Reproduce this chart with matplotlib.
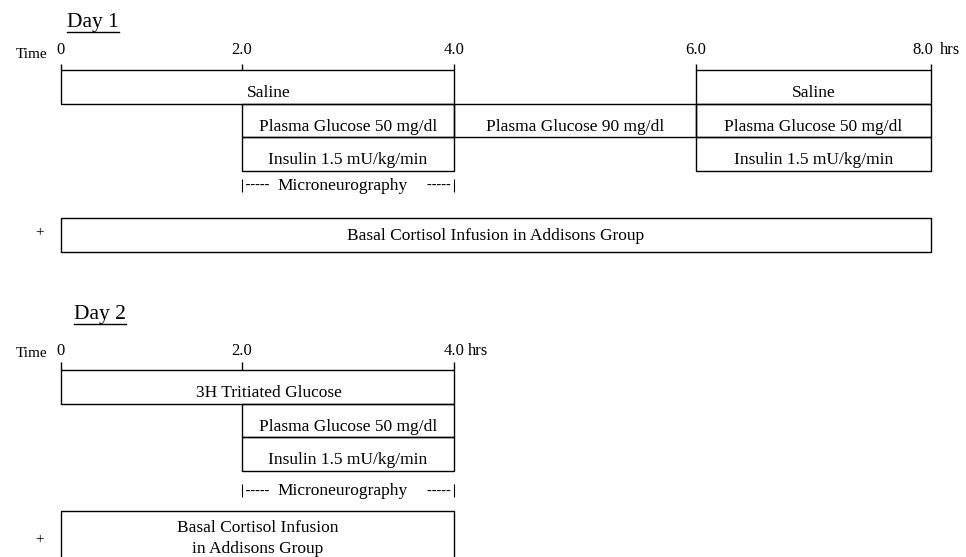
"""Protocol timeline schematic (Day 1 / Day 2 clamp study)."""

import matplotlib
matplotlib.use("Agg")
import matplotlib.pyplot as plt
import numpy as np
from matplotlib.patches import Rectangle
from matplotlib.transforms import Affine2D, offset_copy

W, H = 966, 557

# --- data -------------------------------------------------------------------
HOURS = [0, 2, 4, 6, 8]

day1_ticks = [0, 2, 4, 6, 8]
day1_tick_labels = ["0", "2.0", "4.0", "6.0", "8.0"]
day1_labels = ["Saline", "Plasma Glucose 50 mg/dl", "Insulin 1.5 mU/kg/min",
               "Plasma Glucose 90 mg/dl", "Saline", "Plasma Glucose 50 mg/dl",
               "Insulin 1.5 mU/kg/min"]
day1_start = [0, 2, 2, 4, 6, 6, 6]
day1_end = [4, 4, 4, 6, 8, 8, 8]
day1_row = [0, 1, 2, 1, 0, 1, 2]
day1_micro = (2, 4)
day1_cortisol = (0, 8, "Basal Cortisol Infusion in Addisons Group")

day2_ticks = [0, 2, 4]
day2_tick_labels = ["0", "2.0", "4.0"]
day2_labels = ["3H Tritiated Glucose", "Plasma Glucose 50 mg/dl",
               "Insulin 1.5 mU/kg/min"]
day2_start = [0, 2, 2]
day2_end = [4, 4, 4]
day2_row = [0, 1, 2]
day2_micro = (2, 4)
day2_cortisol = (0, 4, "Basal Cortisol Infusion\nin Addisons Group")

# --- layout -----------------------------------------------------------------
# the hour marks in the original sketch are not evenly spaced
TICK_PX = [61, 242, 454, 696, 931]
ROW_H = 33.7
# per-panel vertical layout (pixels from top)
PANELS = [
    dict(day="Day 1", day_x=67, day_base=27.5, tick_base=54, time_base=58,
         tick_top=64, axis_y=70, micro_y=186, cort_top=218, cort_h=33.5,
         plus_y=233, last_dx=2, last_ha="right", hrs_dx=9,
         label_at=[2.25, 3, 3, 5, 7, 7, 7]),
    dict(day="Day 2", day_x=74, day_base=319, tick_base=355, time_base=357,
         tick_top=362, axis_y=370, micro_y=491, cort_top=511, cort_h=53,
         plus_y=540, last_dx=0, last_ha="center", hrs_dx=14,
         label_at=[2.25, 3, 3]),
]

FONT = "Liberation Serif"
BOX_FS = 12.5


def hours_to_px(h):
    h = np.asarray(h, dtype=float)
    px = np.interp(h, HOURS, TICK_PX)
    lo = (TICK_PX[1] - TICK_PX[0]) / (HOURS[1] - HOURS[0])
    hi = (TICK_PX[-1] - TICK_PX[-2]) / (HOURS[-1] - HOURS[-2])
    px = np.where(h < HOURS[0], TICK_PX[0] + (h - HOURS[0]) * lo, px)
    px = np.where(h > HOURS[-1], TICK_PX[-1] + (h - HOURS[-1]) * hi, px)
    return px


def px_to_hours(p):
    p = np.asarray(p, dtype=float)
    h = np.interp(p, TICK_PX, HOURS)
    lo = (HOURS[1] - HOURS[0]) / (TICK_PX[1] - TICK_PX[0])
    hi = (HOURS[-1] - HOURS[-2]) / (TICK_PX[-1] - TICK_PX[-2])
    h = np.where(p < TICK_PX[0], HOURS[0] + (p - TICK_PX[0]) * lo, h)
    h = np.where(p > TICK_PX[-1], HOURS[-1] + (p - TICK_PX[-1]) * hi, h)
    return h


fig = plt.figure(figsize=(W / 100, H / 100), dpi=100)
ax = fig.add_axes([0, 0, 1, 1])
ax.set_xscale("function", functions=(hours_to_px, px_to_hours))
ax.set_xlim(float(px_to_hours(0)), float(px_to_hours(W)))
ax.set_ylim(H, 0)
ax.axis("off")

# pixel transform, origin top-left
pix = Affine2D().scale(1 / W, -1 / H).translate(0, 1) + fig.transFigure

day_texts = []


def draw_panel(p, ticks, tick_labels, labels, starts, ends, rows, micro, cort):
    t = fig.text(p["day_x"], p["day_base"], p["day"], transform=pix,
                 family=FONT, fontsize=15.5, va="baseline", ha="left")
    day_texts.append((t, p["day_base"] + 4.5))

    # time scale
    fig.text(47, p["time_base"], "Time", transform=pix, family=FONT,
             fontsize=11, ha="right", va="baseline")
    for i, (h, lab) in enumerate(zip(ticks, tick_labels)):
        last = i == len(ticks) - 1
        tr = offset_copy(ax.transData, fig, x=p["last_dx"] if last else 0,
                         y=0, units="dots")
        ax.text(h, p["tick_base"], lab, family=FONT, fontsize=12,
                ha=p["last_ha"] if last else "center", va="baseline",
                transform=tr)
    ax.vlines(ticks, p["tick_top"], p["axis_y"], color="black", lw=1.0)
    tr = offset_copy(ax.transData, fig, x=p["hrs_dx"], y=0, units="dots")
    ax.text(ticks[-1], p["tick_base"], "hrs", family=FONT, fontsize=12,
            ha="left", va="baseline", transform=tr)

    # infusion boxes
    for lab, s, e, r, at in zip(labels, starts, ends, rows, p["label_at"]):
        top = p["axis_y"] + r * ROW_H
        ax.add_patch(Rectangle((s, top), e - s, ROW_H, fill=False,
                               edgecolor="black", lw=1.0))
        ax.text(at, top + 27, lab, family=FONT, fontsize=BOX_FS,
                ha="center", va="baseline")

    # microneurography bracket
    m0, m1 = micro
    y = p["micro_y"]
    ax.vlines([m0, m1], y - 7, y + 6, color="black", lw=0.8)
    ax.text(m0, y - 1, " -----", family=FONT, fontsize=10.5, ha="left",
            va="center")
    ax.text(m1, y - 1, "----- ", family=FONT, fontsize=10.5, ha="right",
            va="center")
    mid = float(px_to_hours((hours_to_px(m0) + hours_to_px(m1)) / 2))
    ax.text(mid - 0.05, y, "Microneurography", family=FONT, fontsize=BOX_FS,
            ha="center", va="center")

    # cortisol infusion
    c0, c1, clab = cort
    ax.add_patch(Rectangle((c0, p["cort_top"]), c1 - c0, p["cort_h"],
                           fill=False, edgecolor="black", lw=1.0))
    cmid = float(px_to_hours((hours_to_px(c0) + hours_to_px(c1)) / 2))
    ax.text(cmid, p["cort_top"] + p["cort_h"] / 2 + 1, clab, family=FONT,
            fontsize=BOX_FS, ha="center", va="center", linespacing=1.4)
    fig.text(40, p["plus_y"], "+", transform=pix, family=FONT, fontsize=11,
             ha="center", va="center")


draw_panel(PANELS[0], day1_ticks, day1_tick_labels, day1_labels, day1_start,
           day1_end, day1_row, day1_micro, day1_cortisol)
draw_panel(PANELS[1], day2_ticks, day2_tick_labels, day2_labels, day2_start,
           day2_end, day2_row, day2_micro, day2_cortisol)

# underline the day headings
fig.canvas.draw()
renderer = fig.canvas.get_renderer()
for t, uy in day_texts:
    bb = t.get_window_extent(renderer)
    (x0, _), (x1, _) = pix.inverted().transform([[bb.x0, bb.y0],
                                                  [bb.x1, bb.y0]])
    fig.add_artist(plt.Line2D([x0, x1], [uy, uy], transform=pix,
                              color="black", lw=1.0))

fig.savefig("out.png", dpi=100, facecolor="white")
